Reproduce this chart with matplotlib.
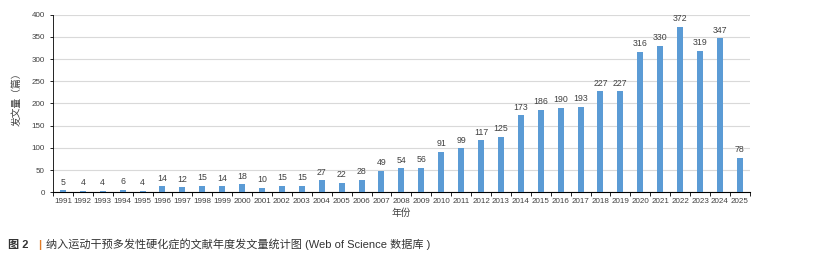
import matplotlib.pyplot as plt

plt.rcParams['font.family'] = ['Liberation Sans', 'Noto Sans CJK SC', 'DejaVu Sans']

years = [str(y) for y in range(1991, 2026)]
counts = [5, 4, 4, 6, 4, 14, 12, 15, 14, 18, 10, 15, 15, 27, 22, 28, 49, 54, 56,
          91, 99, 117, 125, 173, 186, 190, 193, 227, 227, 316, 330, 372, 319, 347, 78]

text_color = '#404040'
bar_color = '#5B9BD5'

fig = plt.figure(figsize=(8.15, 2.64), dpi=100)
ax = fig.add_axes([0.065, 0.271, 0.855, 0.674])

x = range(len(years))
bars = ax.bar(x, counts, width=0.3, color=bar_color, zorder=3)
for xi, c in zip(x, counts):
    ax.text(xi, c + 8, str(c), ha='center', va='bottom', fontsize=6.3, color=text_color)

ax.set_xlim(-0.5, len(years) - 0.5)
ax.set_ylim(0, 400)
ax.set_yticks(range(0, 401, 50))
ax.set_xticks(list(x))
ax.set_xticklabels(years, fontsize=5.8, color=text_color)
ax.tick_params(axis='y', labelsize=5.8, labelcolor=text_color, length=2.5, width=0.6)
ax.tick_params(axis='x', length=0, pad=4)
# tick marks between categories
ax.set_xticks([i - 0.5 for i in range(len(years) + 1)], minor=True)
ax.tick_params(axis='x', which='minor', length=3, width=0.6, color='black')

ax.grid(axis='y', color='#d9d9d9', linewidth=0.8, zorder=0)
for s in ['top', 'right']:
    ax.spines[s].set_visible(False)
ax.spines['left'].set_linewidth(0.6)
ax.spines['bottom'].set_linewidth(0.8)

ax.set_xlabel('年份', fontsize=7, color=text_color, labelpad=2)
ax.set_ylabel('发文量（篇）', fontsize=7, color=text_color)
ax.yaxis.set_label_coords(-0.045, 0.54)

fig.text(0.01, 0.06, '图 2', fontsize=8, color='#333333', fontweight='bold', va='baseline')
fig.text(0.047, 0.06, '|', fontsize=8, color='#E07B25', fontweight='bold', va='baseline')
fig.text(0.057, 0.06, '纳入运动干预多发性硬化症的文献年度发文量统计图 (Web of Science 数据库 )',
         fontsize=8, color='#333333', va='baseline')

fig.savefig('out.png', dpi=100)
